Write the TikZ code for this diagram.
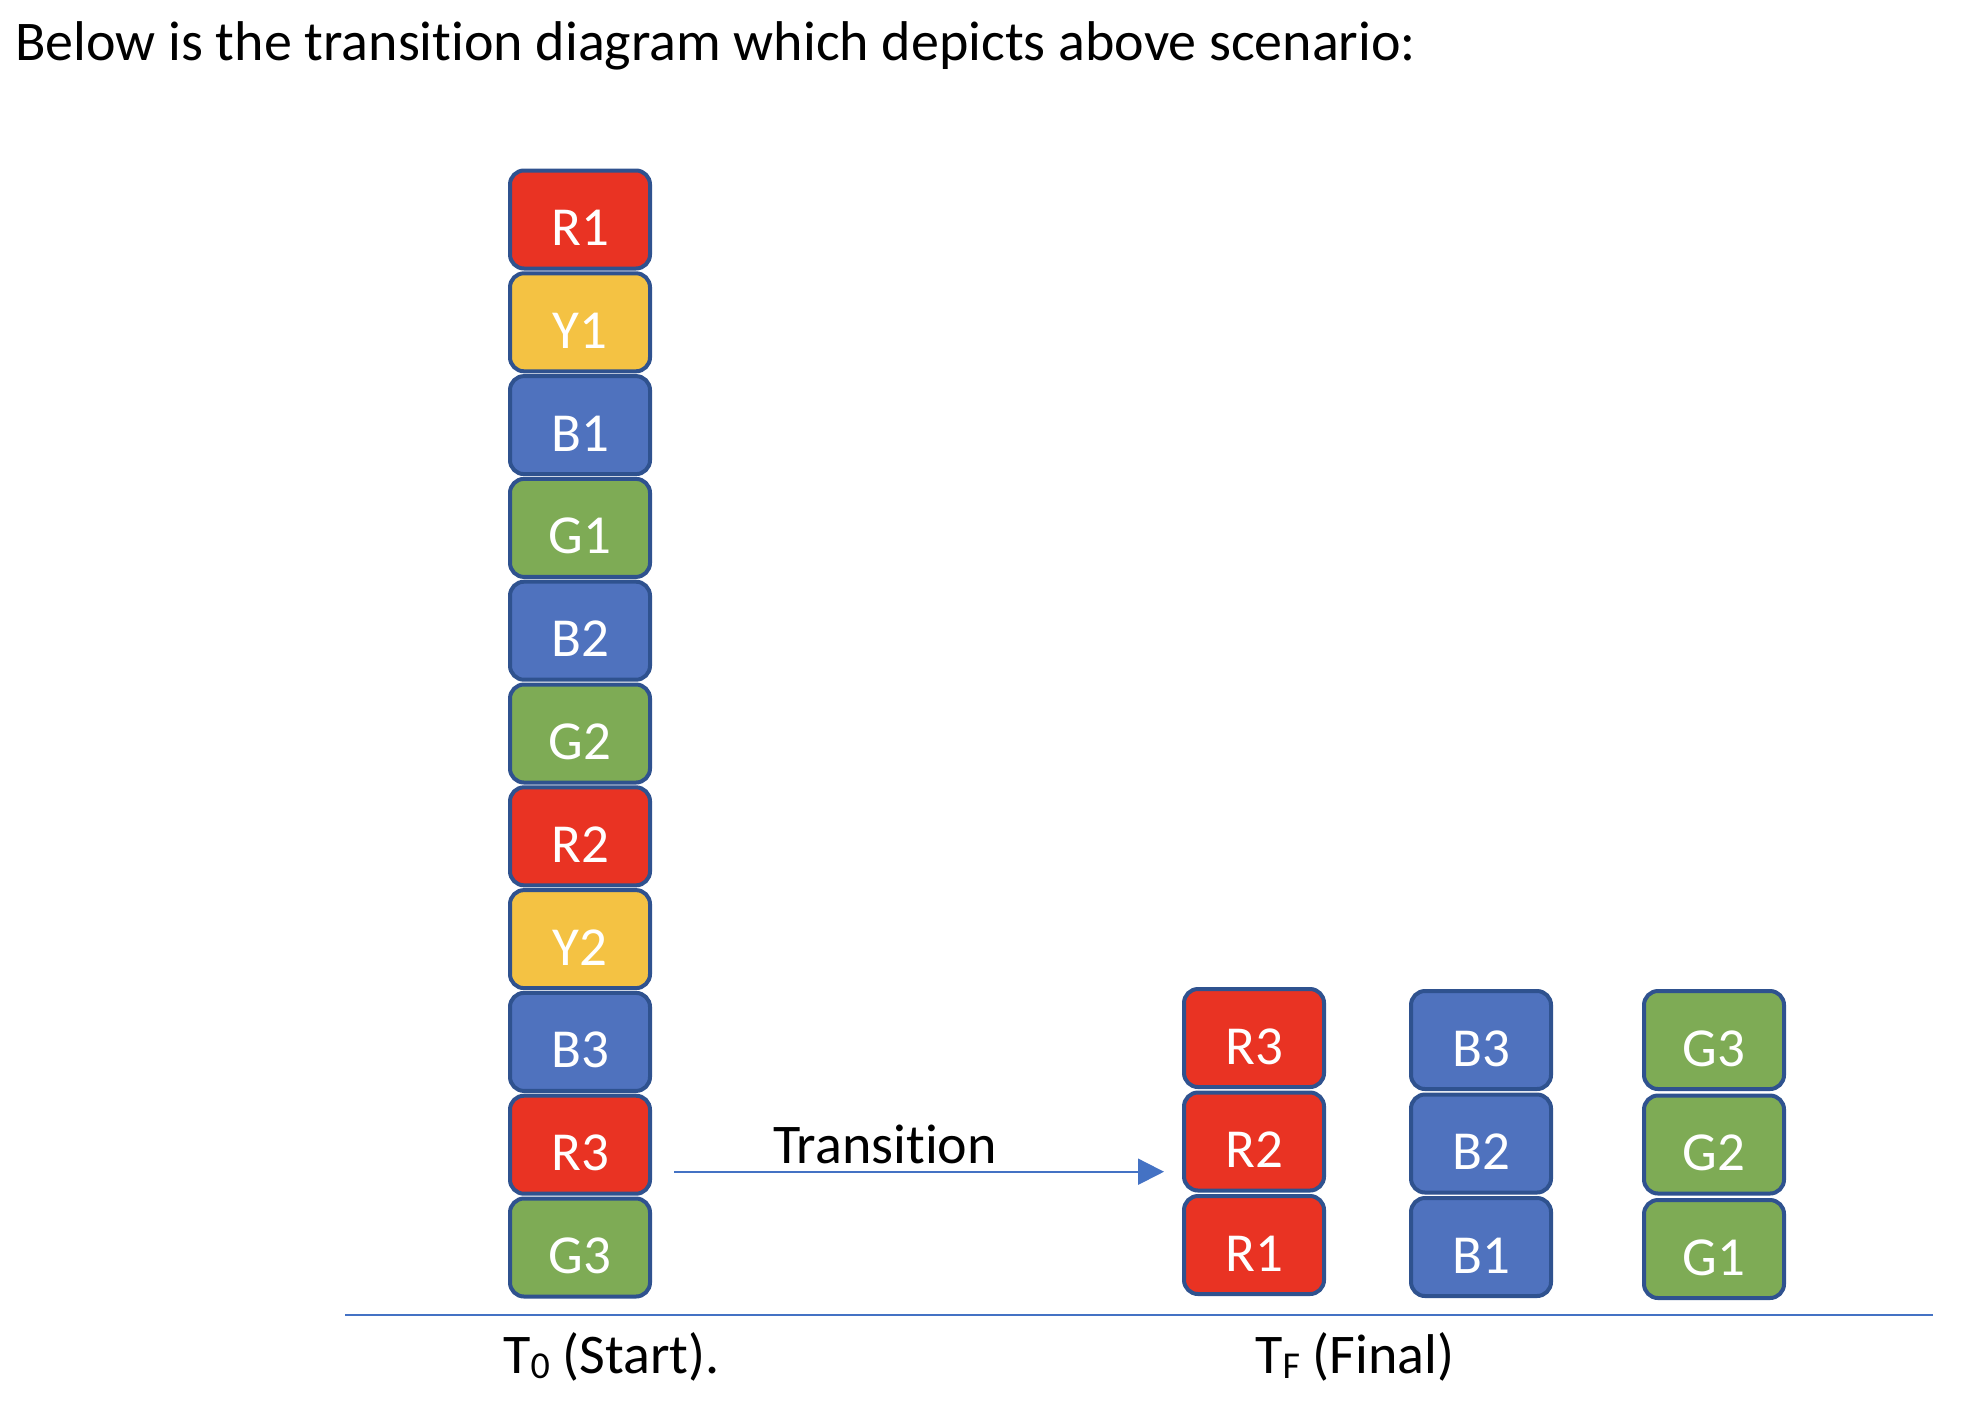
\documentclass[tikz,border=0pt]{standalone}
\usepackage{fontspec}
\setmainfont{Carlito}[Ligatures=NoCommon]
\definecolor{blockred}{RGB}{233,51,35}
\definecolor{blockyellow}{RGB}{244,194,67}
\definecolor{blockblue}{RGB}{79,114,190}
\definecolor{blockgreen}{RGB}{126,171,85}
\definecolor{blockedge}{RGB}{47,82,143}
\definecolor{lineblue}{RGB}{68,114,196}
\usetikzlibrary{calc, positioning, arrows.meta}

\tikzset{
  block/.style={draw=blockedge, line width=2pt, rounded corners=7pt,
        minimum width=70pt, minimum height=49pt, inner sep=0pt,
        text height=26pt, text depth=0pt,
        text=white, font=\fontsize{27.5}{32}\selectfont},
  caption/.style={font=\fontsize{28}{34}\selectfont, inner sep=0pt}
}
\newcommand{\smalldigit}[1]{\raisebox{-2.5pt}{\fontsize{19}{22}\selectfont #1}}

\begin{document}
\begin{tikzpicture}[x=0.5pt, y=-0.5pt]
  \useasboundingbox (0,0) rectangle (1962,1414);
  \node[caption, anchor=base west] (title) at (15,60)
    {Below is the transition diagram which depicts above scenario:};

  % start stack, top to bottom
  \foreach \lab/\col [count=\i from 0] in {R1/blockred, Y1/blockyellow, B1/blockblue,
      G1/blockgreen, B2/blockblue, G2/blockgreen, R2/blockred, Y2/blockyellow,
      B3/blockblue, R3/blockred, G3/blockgreen}
    \node[block, fill=\col] (s-\lab) at (580,219.5+102.8*\i) {\lab};

  % final stacks
  \foreach \lab [count=\i from 0] in {R3,R2,R1}
    \node[block, fill=blockred] (f-\lab) at (1254,1038+103.5*\i) {\lab};
  \foreach \lab [count=\i from 0] in {B3,B2,B1}
    \node[block, fill=blockblue] (f-\lab) at (1481,1040+103.5*\i) {\lab};
  \foreach \lab [count=\i from 0] in {G3,G2,G1}
    \node[block, fill=blockgreen] (f-\lab) at (1714,1040+104.5*\i) {\lab};

  % transition arrow
  \coordinate (tr-start) at ($(s-R3.east)+(22,27)$);
  \coordinate (tr-end) at ($(f-R2.west |- tr-start)+(-18,0)$);
  \draw[-{Triangle[length=13pt,width=13pt]}, line width=1pt, lineblue]
    (tr-start) -- (tr-end);
  \node[caption, anchor=base] (trans) at (885,1163) {Transition};

  % time axis
  \coordinate (axis-l) at (345,1315);
  \coordinate (axis-r) at (1933,1315);
  \draw[line width=1.1pt, lineblue] (axis-l) -- (axis-r);
  \node[caption, anchor=base west] (t0) at (503,1373) {T\smalldigit{0} (Start).};
  \node[caption, anchor=base west] (tf) at (1255,1373) {T\smalldigit{F} (Final)};
\end{tikzpicture}
\end{document}
